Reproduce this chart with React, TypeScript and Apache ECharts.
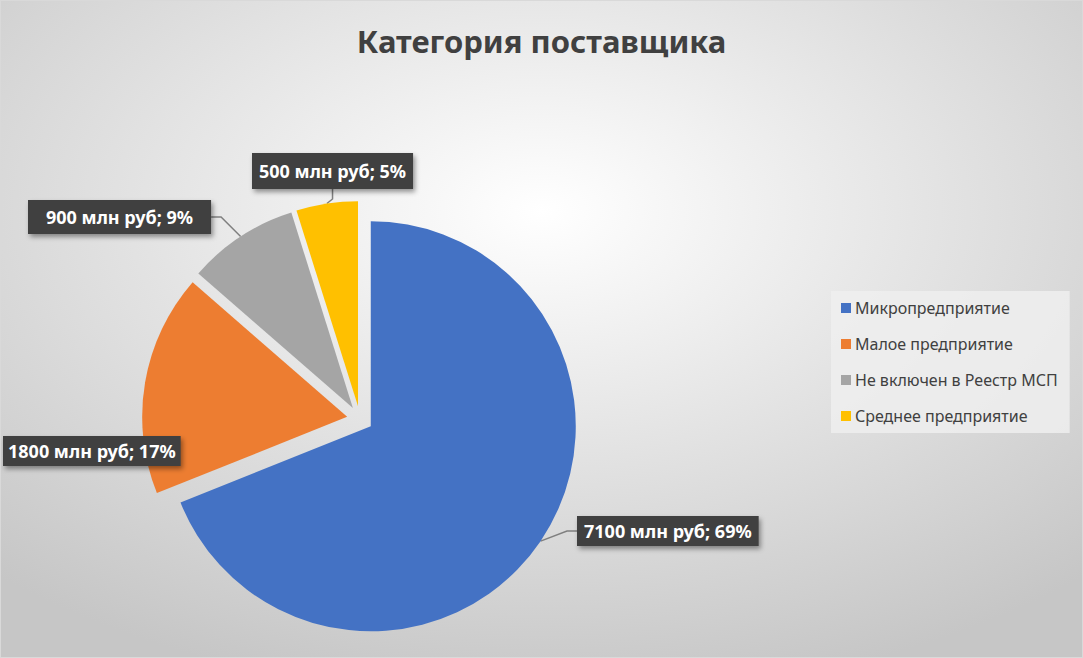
import * as echarts from "echarts";
import { useEffect, useRef } from "react";

const categories = [
  "Микропредприятие",
  "Малое предприятие",
  "Не включен в Реестр МСП",
  "Среднее предприятие",
];
const values = [7100, 1800, 900, 500];
const colors = ["#4472C4", "#ED7D31", "#A5A5A5", "#FFC000"];
// label box top-left corners and paddings, same order as categories
const labelSpots = [
  [576, 515],
  [2, 435],
  [27, 199],
  [251, 152],
];
const labelPads = [
  [6, 7, 6, 7],
  [6, 5, 6, 5],
  [8, 18, 8, 18],
  [9, 7, 9, 7],
];

const CX = 359;
const CY = 418;
const R = 205;
const EXPLODE = 13;

export default function App() {
  const chartRef = useRef<HTMLDivElement>(null);

  useEffect(() => {
    if (!chartRef.current) return;
    const chart = echarts.init(chartRef.current, null, { renderer: "svg" });

    const font = "'Noto Sans', 'Open Sans', sans-serif";
    const total = values.reduce((a, b) => a + b, 0);

    // one pie per slice so every slice can be pulled out along its own mid angle
    let cum = 0;
    const series = values.map((v, i) => {
      const start = (cum / total) * 360;
      const mid = ((cum + v / 2) / total) * 2 * Math.PI;
      cum += v;
      return {
        type: "pie",
        center: [CX + EXPLODE * Math.sin(mid), CY - EXPLODE * Math.cos(mid)],
        radius: R,
        startAngle: 90 - start,
        clockwise: true,
        percentPrecision: 0,
        avoidLabelOverlap: false,
        emphasis: { disabled: true },
        silent: true,
        data: [
          { name: categories[i], value: v, itemStyle: { color: colors[i] } },
          {
            name: "",
            value: total - v,
            itemStyle: { color: "none" },
            label: { show: false },
            labelLine: { show: false },
          },
        ],
        label: {
          show: true,
          position: "outside",
          overflow: "none",
          formatter: "{c} млн руб; {d}%",
          fontFamily: font,
          fontSize: 18,
          fontWeight: "bold",
          color: "#ffffff",
          backgroundColor: "#404040",
          padding: labelPads[i],
          shadowBlur: 5,
          shadowColor: "rgba(0,0,0,0.4)",
          shadowOffsetX: 2,
          shadowOffsetY: 3,
        },
        labelLine: {
          show: i !== 1,
          length: 10,
          length2: 10,
          lineStyle: { color: "#7f7f7f", width: 1.5 },
        },
        labelLayout: () => {
          const p = labelSpots[i];
          return { x: p[0], y: p[1], align: "left", verticalAlign: "top" };
        },
      };
    });

    chart.setOption({
      animation: false,
      backgroundColor: new echarts.graphic.RadialGradient(0.5, 0.32, 0.75, [
        { offset: 0, color: "#ffffff" },
        { offset: 1, color: "#c6c6c6" },
      ]),
      title: {
        text: "Категория поставщика",
        left: "center",
        top: 19,
        textStyle: {
          fontFamily: font,
          fontSize: 31,
          fontWeight: "bold",
          color: "#404040",
        },
      },
      legend: {
        orient: "vertical",
        left: 830,
        top: 290,
        width: 240,
        padding: [9, 12, 9, 10],
        itemGap: 20,
        itemWidth: 10,
        itemHeight: 10,
        icon: "rect",
        backgroundColor: "rgba(238,238,238,0.85)",
        data: categories.map((name, i) => ({
          name,
          itemStyle: { color: colors[i] },
        })),
        selectedMode: false,
        textStyle: {
          fontFamily: font,
          fontSize: 16,
          color: "#404040",
          padding: [0, 0, 0, -1],
        },
      },
      series,
    });

    return () => {
      chart.dispose();
    };
  }, []);

  return (
    <div
      ref={chartRef}
      style={{
        position: "absolute",
        left: 0,
        top: 0,
        width: 1083,
        height: 658,
        boxSizing: "border-box",
        border: "1px solid #d9d9d9",
      }}
    />
  );
}
